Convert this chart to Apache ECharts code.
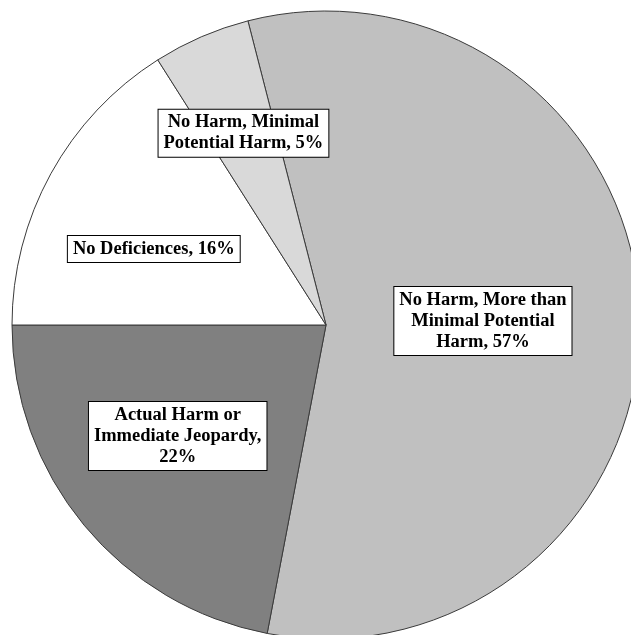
<!DOCTYPE html>
<html>
<head>
<meta charset="utf-8">
<script src="https://cdn.jsdelivr.net/npm/echarts@6/dist/echarts.min.js"></script>
<style>
  html, body { margin: 0; padding: 0; background: #fff; }
  #main { width: 631px; height: 635px; }
</style>
</head>
<body>
<div id="main"></div>
<script>
// slices, clockwise from the top
var categories = [
  'No Harm, More than\nMinimal Potential\nHarm',
  'Actual Harm or\nImmediate Jeopardy,\n',
  'No Deficiences',
  'No Harm, Minimal\nPotential Harm'
];
var values = [57, 22, 16, 5];
var colors = ['#c0c0c0', '#808080', '#ffffff', '#d9d9d9'];

var chart = echarts.init(document.getElementById('main'));

// label nudges so boxes sit where the original put them
var offsets = [[-3, 1], [-25, 9], [-32, 1], [-19, -45]];

var data = values.map(function (v, i) {
  var sep = categories[i].slice(-1) == '\n' ? '' : ', ';
  return {
    name: categories[i],
    value: v,
    itemStyle: { color: colors[i] },
    label: {
      formatter: categories[i] + sep + v + '%',
      offset: offsets[i]
    }
  };
});

chart.setOption({
  animation: false,
  series: [{
    type: 'pie',
    center: [326, 325],
    radius: 314,
    startAngle: 104.4,
    clockwise: true,
    avoidLabelOverlap: false,
    itemStyle: {
      borderColor: '#3a3a3a',
      borderWidth: 1
    },
    label: {
      show: true,
      position: 'inside',
      fontFamily: '"Liberation Serif", "Times New Roman", serif',
      fontWeight: 'bold',
      fontSize: 18.5,
      lineHeight: 21,
      color: '#000',
      align: 'center',
      backgroundColor: '#fff',
      borderColor: '#000',
      borderWidth: 1,
      padding: [3, 5, 2, 5]
    },
    labelLine: { show: false },
    emphasis: { disabled: true },
    data: data
  }]
});
</script>
</body>
</html>
